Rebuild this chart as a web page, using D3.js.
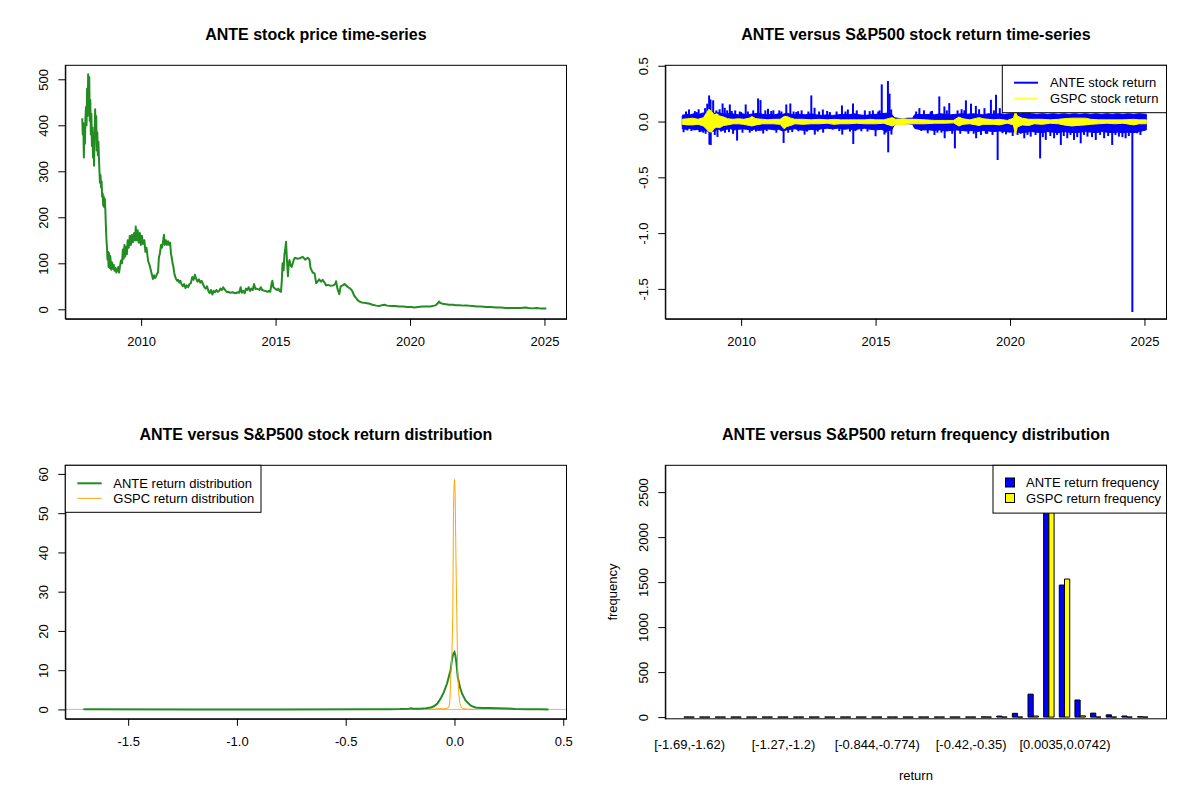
<!DOCTYPE html>
<html>
<head>
<meta charset="utf-8">
<script src="https://cdn.jsdelivr.net/npm/d3@7"></script>
<style>
body { margin: 0; background: #fff; }
text { font-family: "Liberation Sans", Arial, sans-serif; }
</style>
</head>
<body>
<svg id="chart" width="1200" height="800"></svg>
<script>
// ---- ANTE price ----
var priceYears = [2007.81,2007.83,2007.85,2007.87,2007.89,2007.91,2007.93,2007.95,2007.97,2007.99,2008.01,2008.03,2008.05,2008.07,2008.09,2008.11,2008.13,2008.15,2008.17,2008.19,2008.21,2008.23,2008.25,2008.27,2008.29,2008.31,2008.33,2008.35,2008.37,2008.39,2008.41,2008.43,2008.45,2008.47,2008.49,2008.51,2008.53,2008.55,2008.57,2008.59,2008.61,2008.63,2008.65,2008.67,2008.69,2008.71,2008.73,2008.75,2008.77,2008.79,2008.81,2008.83,2008.85,2008.87,2008.89,2008.92,2008.95,2008.98,2009.01,2009.05,2009.08,2009.12,2009.15,2009.18,2009.22,2009.25,2009.29,2009.32,2009.35,2009.38,2009.41,2009.44,2009.47,2009.50,2009.54,2009.58,2009.62,2009.66,2009.70,2009.74,2009.78,2009.80,2009.83,2009.87,2009.91,2009.95,2009.99,2010.03,2010.07,2010.12,2010.16,2010.20,2010.26,2010.32,2010.38,2010.44,2010.48,2010.52,2010.56,2010.60,2010.63,2010.66,2010.70,2010.74,2010.78,2010.82,2010.85,2010.88,2010.92,2010.96,2011.00,2011.04,2011.08,2011.11,2011.14,2011.17,2011.20,2011.23,2011.26,2011.30,2011.34,2011.38,2011.42,2011.46,2011.50,2011.55,2011.60,2011.65,2011.70,2011.75,2011.80,2011.85,2011.90,2011.95,2012.00,2012.05,2012.10,2012.15,2012.20,2012.25,2012.30,2012.35,2012.40,2012.45,2012.50,2012.55,2012.60,2012.65,2012.70,2012.75,2012.80,2012.85,2012.90,2012.95,2013.00,2013.05,2013.10,2013.15,2013.20,2013.25,2013.30,2013.40,2013.50,2013.60,2013.65,2013.70,2013.75,2013.80,2013.85,2013.90,2013.95,2014.00,2014.05,2014.10,2014.15,2014.20,2014.25,2014.30,2014.40,2014.45,2014.50,2014.60,2014.70,2014.75,2014.80,2014.85,2014.88,2014.92,2014.98,2015.05,2015.10,2015.15,2015.20,2015.23,2015.26,2015.30,2015.33,2015.36,2015.39,2015.42,2015.46,2015.49,2015.52,2015.56,2015.60,2015.64,2015.68,2015.72,2015.80,2015.90,2016.01,2016.10,2016.20,2016.26,2016.30,2016.38,2016.45,2016.51,2016.56,2016.62,2016.69,2016.75,2016.82,2016.88,2016.95,2017.05,2017.15,2017.22,2017.25,2017.30,2017.37,2017.42,2017.50,2017.56,2017.62,2017.70,2017.78,2017.85,2017.92,2017.99,2018.05,2018.12,2018.20,2018.30,2018.40,2018.50,2018.60,2018.75,2018.86,2018.95,2019.05,2019.15,2019.30,2019.45,2019.60,2019.75,2019.90,2020.05,2020.16,2020.30,2020.45,2020.59,2020.75,2020.90,2020.96,2021.03,2021.08,2021.12,2021.21,2021.33,2021.45,2021.60,2021.70,2021.83,2022.00,2022.15,2022.32,2022.50,2022.65,2022.82,2023.00,2023.20,2023.40,2023.56,2023.75,2023.95,2024.10,2024.30,2024.40,2024.55,2024.70,2024.85,2025.07];
var priceValues = [415,380,405,330,395,360,415,440,400,480,420,511,470,505,410,455,380,425,355,395,330,365,312,380,435,380,420,345,385,335,365,332,300,275,292,265,278,245,252,225,245,222,240,215,180,152,135,108,125,92,122,90,116,104,86,102,88,97,84,90,80,86,92,80,96,106,100,130,110,140,115,136,120,150,134,160,140,162,146,166,150,180,150,172,145,166,140,160,142,150,125,134,105,95,80,66,74,68,72,78,80,112,122,140,134,150,162,140,150,140,148,140,145,120,112,100,92,80,72,66,62,64,58,62,55,50,55,46,52,48,55,57,70,64,75,66,60,65,58,62,55,48,45,50,40,35,42,32,40,37,42,38,40,45,42,48,44,40,37,38,36,37,35,37,36,48,36,40,35,45,42,48,40,45,42,55,44,45,42,48,42,40,38,40,38,55,62,48,45,42,45,40,38,60,100,85,120,130,147,110,72,100,107,95,92,100,108,112,110,111,114,108,112,108,90,80,78,57,60,65,60,64,58,52,53,51,52,55,61,45,33,50,52,55,52,48,45,40,30,25,20,17,15,14,13,12,10,8,7,9,10,8,7,7,6,6,5,5,4,5,6,6,6,8,9,13,17,14,12,11,10,10,9,9,8,8,7,6,6,5,5,4,4,3,3,3,3,4,3,2,3,2,2];
var priceTicks = [0, 100, 200, 300, 400, 500];
var yearTicks = [2010, 2015, 2020, 2025];

// ---- daily returns: usual band per period + the larger single moves ----
var anteBandYears = [2007.81,2007.95,2008.1,2008.25,2008.4,2008.55,2008.7,2008.85,2009.0,2009.15,2009.3,2009.45,2009.6,2009.75,2009.9,2010.05,2010.2,2010.35,2010.5,2010.65,2010.8,2010.95,2011.1,2011.25,2011.4,2011.55,2011.7,2011.85,2012.0,2012.2,2012.4,2012.6,2012.8,2013.0,2013.2,2013.4,2013.6,2013.8,2014.0,2014.2,2014.4,2014.6,2014.8,2015.0,2015.2,2015.4,2015.6,2015.7,2015.8,2016.0,2016.2,2016.38,2016.45,2016.6,2016.8,2017.0,2017.2,2017.4,2017.6,2017.8,2018.0,2018.2,2018.4,2018.6,2018.8,2019.0,2019.2,2019.4,2019.6,2019.8,2020.0,2020.2,2020.4,2020.6,2020.8,2021.0,2021.2,2021.4,2021.6,2021.8,2022.0,2022.2,2022.4,2022.6,2022.8,2023.0,2023.2,2023.4,2023.6,2023.8,2024.0,2024.2,2024.4,2024.6,2024.8,2025.07];
var anteBandHigh = [0.05,0.065,0.06,0.07,0.06,0.075,0.08,0.09,0.075,0.08,0.07,0.065,0.075,0.065,0.06,0.07,0.06,0.065,0.07,0.075,0.065,0.06,0.065,0.06,0.07,0.065,0.075,0.065,0.06,0.065,0.06,0.07,0.06,0.055,0.06,0.055,0.06,0.065,0.06,0.07,0.06,0.055,0.06,0.065,0.07,0.075,0.065,0.035,0.03,0.025,0.03,0.03,0.06,0.065,0.06,0.065,0.06,0.07,0.065,0.06,0.065,0.07,0.065,0.07,0.065,0.06,0.07,0.065,0.07,0.065,0.07,0.075,0.07,0.075,0.07,0.065,0.07,0.065,0.07,0.065,0.07,0.065,0.07,0.065,0.07,0.065,0.07,0.065,0.07,0.065,0.07,0.065,0.07,0.065,0.07,0.065];
var anteBandLow = [-0.065,-0.07,-0.06,-0.075,-0.07,-0.085,-0.08,-0.095,-0.085,-0.07,-0.08,-0.07,-0.065,-0.075,-0.07,-0.065,-0.07,-0.075,-0.07,-0.08,-0.075,-0.065,-0.07,-0.075,-0.07,-0.085,-0.075,-0.07,-0.065,-0.075,-0.08,-0.07,-0.075,-0.065,-0.06,-0.065,-0.06,-0.07,-0.065,-0.075,-0.065,-0.06,-0.07,-0.075,-0.07,-0.085,-0.075,-0.03,-0.02,-0.02,-0.02,-0.025,-0.06,-0.07,-0.075,-0.075,-0.08,-0.075,-0.085,-0.08,-0.075,-0.08,-0.085,-0.08,-0.09,-0.08,-0.085,-0.09,-0.085,-0.09,-0.095,-0.09,-0.1,-0.095,-0.09,-0.095,-0.1,-0.09,-0.095,-0.1,-0.09,-0.095,-0.1,-0.095,-0.09,-0.095,-0.1,-0.09,-0.095,-0.1,-0.095,-0.1,-0.095,-0.1,-0.09,-0.075];
var anteMoveYears = [2007.85,2007.86,2007.95,2008.06,2008.15,2008.28,2008.30,2008.42,2008.50,2008.59,2008.66,2008.74,2008.81,2008.82,2008.86,2008.87,2008.96,2009.02,2009.12,2009.20,2009.31,2009.39,2009.40,2009.48,2009.58,2009.70,2009.78,2009.85,2009.95,2010.05,2010.17,2010.32,2010.45,2010.63,2010.72,2010.82,2010.90,2011.00,2011.12,2011.31,2011.42,2011.58,2011.68,2011.75,2011.83,2011.95,2012.12,2012.13,2012.25,2012.36,2012.50,2012.61,2012.73,2012.74,2012.90,2013.04,2013.05,2013.20,2013.41,2013.55,2013.75,2013.76,2013.97,2014.05,2014.16,2014.17,2014.30,2014.47,2014.60,2014.78,2014.90,2015.00,2015.10,2015.23,2015.33,2015.46,2015.47,2015.52,2015.58,2015.59,2016.51,2016.52,2016.63,2016.80,2016.94,2017.05,2017.19,2017.37,2017.45,2017.56,2017.57,2017.74,2017.85,2017.95,2018.05,2018.20,2018.36,2018.45,2018.55,2018.73,2018.74,2018.92,2019.05,2019.15,2019.29,2019.40,2019.48,2019.54,2019.72,2019.97,2020.10,2020.28,2020.40,2020.53,2020.65,2020.77,2020.95,2021.12,2021.22,2021.33,2021.50,2021.64,2021.75,2021.89,2022.00,2022.13,2022.25,2022.38,2022.50,2022.63,2022.75,2022.88,2023.05,2023.19,2023.35,2023.50,2023.65,2023.80,2023.92,2024.05,2024.18,2024.30,2024.42,2024.55,2024.73,2024.85,2024.98,
    2008.00,2008.35,2008.45,2008.68,2009.08,2009.25,2009.55,2009.65,2010.00,2010.25,2010.40,2010.55,2010.95,2011.20,2011.50,2011.90,2012.05,2012.45,2012.85,2013.30,2013.65,2013.88,2014.25,2014.70,2015.15,2015.38,2016.70,2017.10,2017.30,2017.65,2018.15,2018.30,2018.65,2018.85,2019.10,2019.35,2019.62,2019.85];
var anteMoveValues = [0.063,-0.096,0.09,0.108,-0.085,0.093,-0.072,0.11,-0.09,-0.10,0.12,0.16,0.234,-0.207,0.198,-0.21,0.19,-0.12,-0.138,0.11,0.162,0.123,-0.10,0.10,0.153,-0.11,0.10,-0.171,0.09,-0.10,0.153,-0.10,0.10,0.207,0.192,-0.108,0.10,0.114,0.095,-0.10,0.10,-0.192,0.153,-0.10,0.162,0.09,0.093,-0.087,0.10,-0.117,0.09,0.234,0.123,-0.117,0.09,0.108,-0.10,0.095,-0.072,0.09,0.144,-0.117,0.108,-0.09,0.162,-0.201,0.10,-0.087,0.10,0.093,0.10,-0.132,0.09,0.333,-0.117,0.363,-0.276,0.25,0.108,-0.117,0.09,-0.06,0.12,0.10,-0.105,0.09,-0.12,0.225,-0.10,0.135,-0.15,0.165,-0.11,-0.24,0.10,0.11,0.19,-0.11,0.16,0.14,-0.15,-0.12,0.12,-0.11,0.195,0.10,0.24,-0.345,-0.105,-0.09,-0.13,-0.12,-0.11,-0.15,-0.12,-0.135,-0.12,-0.33,-0.14,-0.165,-0.13,-0.15,-0.12,-0.21,-0.13,-0.15,-0.12,-0.165,-0.14,-0.195,-0.12,-0.135,-0.14,-0.165,-0.12,-0.15,-0.13,-0.21,-0.12,-0.135,-0.14,-0.15,-0.13,-1.707,-0.105,-0.12,-0.075,
    -0.08,0.085,-0.095,-0.11,0.10,-0.09,-0.095,0.095,0.085,0.09,-0.085,-0.09,-0.085,0.10,0.09,-0.095,0.085,-0.09,-0.09,0.085,-0.085,0.09,-0.085,-0.09,0.10,-0.10,-0.085,0.095,-0.10,0.10,-0.11,0.10,-0.11,0.11,-0.11,-0.12,0.12,-0.115];
var gspcBandYears = [2007.81,2008.0,2008.2,2008.4,2008.6,2008.72,2008.8,2008.9,2009.0,2009.1,2009.2,2009.35,2009.5,2009.7,2009.9,2010.1,2010.3,2010.4,2010.55,2010.8,2011.0,2011.2,2011.45,2011.6,2011.7,2011.85,2012.0,2012.3,2012.6,2012.9,2013.2,2013.45,2013.7,2014.0,2014.3,2014.6,2014.8,2015.0,2015.3,2015.62,2015.75,2016.05,2016.2,2016.5,2016.85,2017.2,2017.6,2017.9,2018.1,2018.25,2018.5,2018.85,2019.0,2019.4,2019.6,2019.9,2020.13,2020.2,2020.27,2020.45,2020.7,2020.9,2021.2,2021.5,2021.8,2022.0,2022.3,2022.5,2022.8,2023.0,2023.3,2023.6,2023.9,2024.2,2024.6,2024.8,2025.07];
var gspcBandHigh = [0.02,0.025,0.03,0.02,0.035,0.08,0.11,0.09,0.06,0.07,0.05,0.04,0.025,0.02,0.025,0.02,0.03,0.045,0.025,0.02,0.015,0.02,0.02,0.045,0.045,0.03,0.02,0.02,0.015,0.02,0.015,0.02,0.015,0.015,0.015,0.015,0.02,0.015,0.015,0.035,0.02,0.025,0.02,0.02,0.015,0.01,0.01,0.01,0.04,0.025,0.015,0.035,0.025,0.015,0.02,0.01,0.03,0.09,0.05,0.03,0.02,0.02,0.02,0.015,0.02,0.025,0.03,0.03,0.03,0.02,0.015,0.015,0.015,0.015,0.02,0.015,0.015];
var gspcBandLow = [-0.025,-0.03,-0.03,-0.025,-0.04,-0.07,-0.09,-0.095,-0.06,-0.05,-0.055,-0.035,-0.03,-0.02,-0.02,-0.025,-0.035,-0.04,-0.03,-0.02,-0.02,-0.02,-0.025,-0.065,-0.045,-0.035,-0.02,-0.025,-0.02,-0.02,-0.015,-0.025,-0.02,-0.02,-0.015,-0.02,-0.02,-0.02,-0.015,-0.04,-0.025,-0.025,-0.02,-0.02,-0.02,-0.015,-0.015,-0.012,-0.04,-0.025,-0.02,-0.035,-0.025,-0.025,-0.03,-0.015,-0.03,-0.12,-0.05,-0.03,-0.035,-0.02,-0.025,-0.015,-0.02,-0.03,-0.04,-0.035,-0.03,-0.025,-0.02,-0.015,-0.02,-0.015,-0.03,-0.02,-0.02];
var returnTicks = [-1.5, -1.0, -0.5, 0.0, 0.5];

// ---- return densities ----
var anteDensX = [-1.706,-1.2,-0.8,-0.4,-0.3,-0.25,-0.21,-0.2,-0.19,-0.16,-0.13,-0.118,-0.11,-0.095,-0.08,-0.064,-0.049,-0.034,-0.026,-0.018,-0.011,-0.005,0.0,0.004,0.009,0.015,0.025,0.035,0.051,0.074,0.09,0.104,0.13,0.16,0.2,0.24,0.28,0.34,0.4,0.432];
var anteDensY = [0.02,0.01,0.01,0.02,0.05,0.08,0.2,0.3,0.2,0.2,0.3,0.4,0.45,0.8,1.4,2.7,4.4,6.6,8.3,10.0,12.9,14.2,14.6,13.8,11.8,8.3,5.7,4.0,2.3,1.0,0.6,0.4,0.35,0.35,0.3,0.25,0.1,0.05,0.03,0.01];
var gspcDensX = [-0.125,-0.09,-0.07,-0.05,-0.035,-0.026,-0.021,-0.017,-0.012,-0.0077,-0.0046,-0.0015,0.0005,0.003,0.0046,0.0077,0.0107,0.015,0.02,0.025,0.031,0.04,0.06,0.1];
var gspcDensY = [0.0,0.1,0.2,0.15,0.3,0.5,2.3,8.3,13.8,24.0,50.4,57.5,58.6,55.0,48.3,34.6,24.5,9.2,4.0,1.5,0.5,0.2,0.05,0.0];
var densXTicks = [-1.5, -1.0, -0.5, 0.0, 0.5];
var densYTicks = [0, 10, 20, 30, 40, 50, 60];

// ---- return frequency per bin ----
var binLabels = ["[-1.69,-1.62)","[-1.62,-1.55)","[-1.55,-1.48)","[-1.48,-1.41)","[-1.41,-1.34)","[-1.34,-1.27)","[-1.27,-1.2)","[-1.2,-1.13)","[-1.13,-1.06)","[-1.06,-0.986)","[-0.986,-0.915)","[-0.915,-0.844)","[-0.844,-0.774)","[-0.774,-0.703)","[-0.703,-0.632)","[-0.632,-0.562)","[-0.562,-0.491)","[-0.491,-0.42)","[-0.42,-0.35)","[-0.35,-0.279)","[-0.279,-0.208)","[-0.208,-0.138)","[-0.138,-0.067)","[-0.067,0.0035)","[0.0035,0.0742)","[0.0742,0.145)","[0.145,0.215)","[0.215,0.286)","[0.286,0.357)","[0.357,0.427]"];
var anteFreq = [1,0,0,0,0,0,0,0,0,0,0,0,0,0,0,0,0,0,0,2,11,42,255,2420,1467,190,44,25,12,4];
var gspcFreq = [0,0,0,0,0,0,0,0,0,0,0,0,0,0,0,0,0,0,0,0,0,0,12,2790,1534,14,0,0,0,0];
var shownBins = [0, 6, 12, 18, 24];
var freqTicks = [0, 500, 1000, 1500, 2000, 2500];

var boxL = 65.3, boxR = 566.5, boxT = 65.3, boxB = 318.8;
var font = "'Liberation Sans', Arial, sans-serif";
var fs = 13;

var svg = d3.select("#chart");
svg.append("rect").attr("width", 1200).attr("height", 800).attr("fill", "#fff");

function panel(ox, oy, title) {
    var g = svg.append("g").attr("transform", "translate(" + ox + "," + oy + ")");
    g.append("text")
        .attr("x", (boxL + boxR) / 2).attr("y", 40)
        .attr("text-anchor", "middle").attr("font-weight", "bold").attr("font-size", 16)
        .text(title);
    return g;
}

function styleAxis(a) {
    a.attr("font-size", fs).attr("font-family", font);
    a.selectAll("line, path").attr("stroke", "#000");
    a.selectAll("text").attr("fill", "#000");
}

function xAxis(g, scale, ticks, fmt) {
    var a = g.append("g").attr("transform", "translate(0," + boxB + ")")
        .call(d3.axisBottom(scale).tickValues(ticks).tickFormat(fmt)
            .tickSize(7).tickSizeOuter(0).tickPadding(11.3));
    styleAxis(a);
    return a;
}

function yAxis(g, scale, ticks, fmt) {
    var a = g.append("g").attr("transform", "translate(" + boxL + ",0)")
        .call(d3.axisLeft(scale).tickValues(ticks).tickFormat(fmt)
            .tickSize(7).tickSizeOuter(0));
    styleAxis(a);
    a.selectAll(".tick text")
        .attr("transform", "rotate(-90)")
        .attr("x", 0).attr("y", -22).attr("dy", "0.35em")
        .attr("text-anchor", "middle");
    return a;
}

function box(g) {
    g.append("rect").attr("x", boxL).attr("y", boxT)
        .attr("width", boxR - boxL).attr("height", boxB - boxT)
        .attr("fill", "none").attr("stroke", "#000");
}

function legendBox(g, x, y, w, h) {
    g.append("rect").attr("x", x).attr("y", y).attr("width", w).attr("height", h)
        .attr("fill", "#fff").attr("stroke", "#000");
}

function legendText(g, x, y, s) {
    g.append("text").attr("x", x).attr("y", y).attr("dy", "0.35em")
        .attr("font-size", fs).text(s);
}

// ================= 1. price =================
var p1 = panel(0, 0, "ANTE stock price time-series");
var xYear = d3.scaleLinear().domain([2007.18, 2025.82]).range([boxL, boxR]);
var yPrice = d3.scaleLinear().domain([-20.65, 530.4]).range([boxB, boxT]);

p1.append("path")
    .datum(d3.range(priceYears.length))
    .attr("fill", "none").attr("stroke", "#228B22").attr("stroke-width", 2)
    .attr("stroke-linejoin", "round")
    .attr("d", d3.line().x(function(i){ return xYear(priceYears[i]); })
                        .y(function(i){ return yPrice(priceValues[i]); }));
xAxis(p1, xYear, yearTicks, function(d){ return String(d); });
yAxis(p1, yPrice, priceTicks, function(d){ return String(d); });
box(p1);

// ================= 2. returns =================
var p2 = panel(600, 0, "ANTE versus S&P500 stock return time-series");
var yRet = d3.scaleLinear().domain([-1.768, 0.504]).range([boxB, boxT]);

p2.append("path")
    .datum(d3.range(anteBandYears.length))
    .attr("fill", "#0000FF").attr("stroke", "#0000FF").attr("stroke-width", 1)
    .attr("d", d3.area().x(function(i){ return xYear(anteBandYears[i]); })
                        .y0(function(i){ return yRet(anteBandLow[i]); })
                        .y1(function(i){ return yRet(anteBandHigh[i]); }));
p2.append("g").selectAll("line")
    .data(d3.range(anteMoveYears.length))
    .enter().append("line")
    .attr("x1", function(i){ return xYear(anteMoveYears[i]); })
    .attr("x2", function(i){ return xYear(anteMoveYears[i]); })
    .attr("y1", yRet(0))
    .attr("y2", function(i){ return yRet(anteMoveValues[i]); })
    .attr("stroke", "#0000FF").attr("stroke-width", 2);
p2.append("path")
    .datum(d3.range(gspcBandYears.length))
    .attr("fill", "#FFFF00").attr("stroke", "#FFFF00").attr("stroke-width", 1)
    .attr("d", d3.area().x(function(i){ return xYear(gspcBandYears[i]); })
                        .y0(function(i){ return yRet(gspcBandLow[i]); })
                        .y1(function(i){ return yRet(gspcBandHigh[i]); }));
xAxis(p2, xYear, yearTicks, function(d){ return String(d); });
yAxis(p2, yRet, returnTicks, function(d){ return d.toFixed(1); });
box(p2);

legendBox(p2, 402.3, boxT, boxR - 402.3, 47.4);
p2.append("line").attr("x1", 414).attr("x2", 438).attr("y1", 82.7).attr("y2", 82.7)
    .attr("stroke", "#0000FF").attr("stroke-width", 2);
p2.append("line").attr("x1", 414).attr("x2", 438).attr("y1", 98.3).attr("y2", 98.3)
    .attr("stroke", "#FFFF00").attr("stroke-width", 1);
legendText(p2, 450, 82.7, "ANTE stock return");
legendText(p2, 450, 98.3, "GSPC stock return");

// ================= 3. densities =================
var p3 = panel(0, 400, "ANTE versus S&P500 stock return distribution");
var xDens = d3.scaleLinear().domain([-1.789, 0.515]).range([boxL, boxR]);
var yDens = d3.scaleLinear().domain([-2.39, 62.2]).range([boxB, boxT]);

p3.append("line").attr("x1", boxL).attr("x2", boxR)
    .attr("y1", yDens(0)).attr("y2", yDens(0))
    .attr("stroke", "#BEBEBE").attr("stroke-width", 1);
p3.append("path")
    .datum(d3.range(anteDensX.length))
    .attr("fill", "none").attr("stroke", "#228B22").attr("stroke-width", 2)
    .attr("d", d3.line().x(function(i){ return xDens(anteDensX[i]); })
                        .y(function(i){ return yDens(anteDensY[i]); }));
p3.append("path")
    .datum(d3.range(gspcDensX.length))
    .attr("fill", "none").attr("stroke", "#FFA500").attr("stroke-width", 1)
    .attr("d", d3.line().x(function(i){ return xDens(gspcDensX[i]); })
                        .y(function(i){ return yDens(gspcDensY[i]); }));
xAxis(p3, xDens, densXTicks, function(d){ return d.toFixed(1); });
yAxis(p3, yDens, densYTicks, function(d){ return String(d); });
box(p3);

legendBox(p3, boxL, boxT, 195.7, 47);
p3.append("line").attr("x1", 77.3).attr("x2", 101.7).attr("y1", 83.3).attr("y2", 83.3)
    .attr("stroke", "#228B22").attr("stroke-width", 2);
p3.append("line").attr("x1", 77.3).attr("x2", 101.7).attr("y1", 98.3).attr("y2", 98.3)
    .attr("stroke", "#FFA500").attr("stroke-width", 1);
legendText(p3, 113.3, 83.3, "ANTE return distribution");
legendText(p3, 113.3, 98.3, "GSPC return distribution");

// ================= 4. frequency bars =================
var p4 = panel(600, 400, "ANTE versus S&P500 return frequency distribution");
// barplot units: each bin = 1 space + 2 bars
var xUnit = d3.scaleLinear().domain([-2.56, 93.56]).range([boxL, boxR]);
var yFreq = d3.scaleLinear().domain([-19, 2798]).range([boxB, boxT]);

function barPath(u0, v) {
    var x0 = xUnit(u0), x1 = xUnit(u0 + 1), y0 = yFreq(0), y1 = yFreq(v);
    return "M" + x0 + "," + y0 + "H" + x1 + "V" + y1 + "H" + x0 + "Z";
}
var bars = p4.append("g");
bars.selectAll("path.ante").data(anteFreq).enter().append("path")
    .attr("class", "ante")
    .attr("d", function(v, k){ return barPath(3 * k + 1, v); })
    .attr("fill", "#0000FF").attr("stroke", "#000").attr("stroke-width", 1);
bars.selectAll("path.gspc").data(gspcFreq).enter().append("path")
    .attr("class", "gspc")
    .attr("d", function(v, k){ return barPath(3 * k + 2, v); })
    .attr("fill", "#FFFF00").attr("stroke", "#000").attr("stroke-width", 1);

var xa = p4.append("g").attr("transform", "translate(0," + boxB + ")")
    .call(d3.axisBottom(xUnit)
        .tickValues(shownBins.map(function(k){ return 3 * k + 2; }))
        .tickFormat(function(u){ return binLabels[(u - 2) / 3]; })
        .tickSize(0).tickPadding(21));
styleAxis(xa);
xa.select(".domain").remove();
yAxis(p4, yFreq, freqTicks, function(d){ return String(d); });
box(p4);

p4.append("text").attr("x", (boxL + boxR) / 2).attr("y", 375.6).attr("dy", "0.35em")
    .attr("text-anchor", "middle").attr("font-size", fs).text("return");
p4.append("text").attr("transform", "translate(12," + ((boxT + boxB) / 2) + ") rotate(-90)")
    .attr("dy", "0.35em").attr("text-anchor", "middle").attr("font-size", fs).text("frequency");

legendBox(p4, 393, boxT, boxR - 393, 47.8);
p4.append("rect").attr("x", 405.5).attr("y", 78).attr("width", 9).attr("height", 9)
    .attr("fill", "#0000FF").attr("stroke", "#000");
p4.append("rect").attr("x", 405.5).attr("y", 93.5).attr("width", 9).attr("height", 9)
    .attr("fill", "#FFFF00").attr("stroke", "#000");
legendText(p4, 426, 82.5, "ANTE return frequency");
legendText(p4, 426, 98, "GSPC return frequency");
</script>
</body>
</html>
